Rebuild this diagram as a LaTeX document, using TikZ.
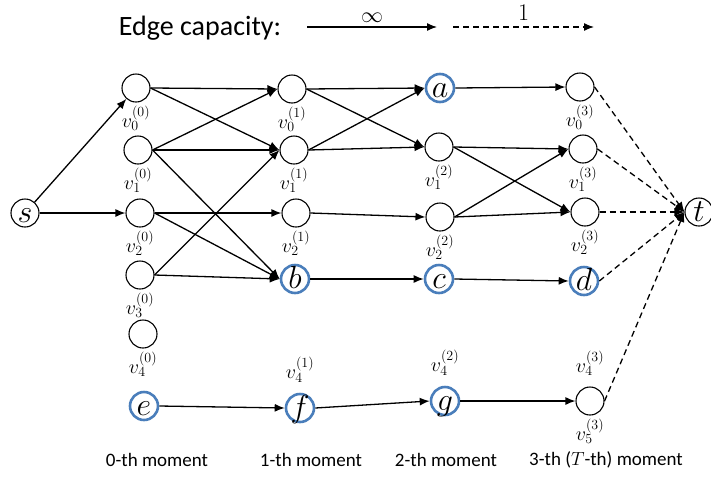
\documentclass[tikz,border=0pt]{standalone}
\usepackage{fix-cm}
\usepackage{fontspec}
\setmainfont{Carlito}
\usetikzlibrary{arrows.meta, positioning}

\definecolor{hitblue}{RGB}{74,126,187}

\begin{document}
\begin{tikzpicture}[x=1pt, y=-1pt, >={Latex[length=10pt,width=8pt]}, line width=1.3pt,
  vtx/.style={draw, circle, line width=1.1pt, minimum size=28pt, inner sep=0pt,
    text height=18pt, text depth=0pt, font=\fontsize{32}{32}\selectfont},
  hit/.style={vtx, draw=hitblue, line width=2.6pt},
  vlbl/.style={font=\fontsize{20}{20}\selectfont, inner sep=1pt, label distance=2pt},
  unitcap/.style={dash pattern=on 6pt off 4pt},
  moment/.style={font=\fontsize{19}{19}\selectfont}]

\useasboundingbox (0,0) rectangle (711,480);

% legend
\node (capt) at (200,28) {\fontsize{28}{28}\selectfont Edge capacity:};
\coordinate (inf-a) at (307,27);
\coordinate (inf-b) at (437,27);
\coordinate (one-a) at (453,27);
\coordinate (one-b) at (594,27);
\draw[->] (inf-a) -- (inf-b) node[midway, above=1pt, font=\fontsize{22}{22}\selectfont] {$\infty$};
\draw[->, unitcap] (one-a) -- (one-b) node[midway, above=3pt, font=\fontsize{24}{24}\selectfont] {$1$};

% source and sink
\node[vtx] (s) at (25,213) {$s$};
\node[vtx] (t) at (699,212) {$t$};

% 0-th moment
\node[vtx, label={[vlbl]below:$v_0^{(0)}$}] (v00) at (136,88) {};
\node[vtx, label={[vlbl]below:$v_1^{(0)}$}] (v10) at (138,150) {};
\node[vtx, label={[vlbl]below:$v_2^{(0)}$}] (v20) at (140,213) {};
\node[vtx, label={[vlbl]below:$v_3^{(0)}$}] (v30) at (140,275) {};
\node[vtx, label={[vlbl]below:$v_4^{(0)}$}] (v40) at (143,334) {};
\node[hit] (e) at (144,406) {$e$};

% 1-th moment
\node[vtx, label={[vlbl]below:$v_0^{(1)}$}] (v01) at (292,89) {};
\node[vtx, label={[vlbl]below:$v_1^{(1)}$}] (v11) at (294,150) {};
\node[vtx, label={[vlbl]below:$v_2^{(1)}$}] (v21) at (296,213) {};
\node[hit] (b) at (295,279) {$b$};
\node[hit, label={[vlbl, label distance=9pt]above:$v_4^{(1)}$}] (f) at (300,408) {$f$};

% 2-th moment
\node[hit] (a) at (440,88) {$a$};
\node[vtx, label={[vlbl]below:$v_1^{(2)}$}] (v12) at (439,147) {};
\node[vtx, label={[vlbl]below:$v_2^{(2)}$}] (v22) at (440,217) {};
\node[hit] (c) at (439,279) {$c$};
\node[hit, label={[vlbl, label distance=9pt]above:$v_4^{(2)}$}] (g) at (445,401) {$g$};

% 3-th moment
\node[vtx, label={[vlbl]below:$v_0^{(3)}$}] (v03) at (580,87) {};
\node[vtx, label={[vlbl]below:$v_1^{(3)}$}] (v13) at (583,149) {};
\node[vtx, label={[vlbl]below:$v_2^{(3)}$}] (v23) at (585,212) {};
\node[hit] (d) at (584,281) {$d$};
\node[vtx, label={[vlbl, label distance=9pt]above:$v_4^{(3)}$}, label={[vlbl]below:$v_5^{(3)}$}] (v53) at (590,401) {};

% moment captions
\node[moment] (m0) at (157,460) {0-th moment};
\node[moment] (m1) at (311,460) {1-th moment};
\node[moment] (m2) at (446,460) {2-th moment};
\node[moment] (m3) at (606,460) {3-th ($T$-th) moment};

\draw[->] (s) -- (v00);
\draw[->] (s.east) -- (v20.west);

\draw[->] (v00.east) -- (v01.west);
\draw[->] (v00.east) -- (v11.west);
\draw[->] (v10.east) -- (v01.west);
\draw[->] (v10.east) -- (v11.west);
\draw[->] (v10.east) -- (b.west);
\draw[->] (v20.east) -- (v21.west);
\draw[->] (v20.east) -- (b.west);
\draw[->] (v30.east) -- (v11.west);
\draw[->] (v30.east) -- (b.west);
\draw[->] (e.east) -- (f.west);

\draw[->] (v01.east) -- (a.west);
\draw[->] (v01.east) -- (v12.west);
\draw[->] (v11.east) -- (a.west);
\draw[->] (v11.east) -- (v12.west);
\draw[->] (v21.east) -- (v22.west);
\draw[->] (b.east) -- (c.west);
\draw[->] (f.east) -- (g.west);

\draw[->] (a.east) -- (v03.west);
\draw[->] (v12.east) -- (v13.west);
\draw[->] (v12.east) -- (v23.west);
\draw[->] (v22.east) -- (v13.west);
\draw[->] (v22.east) -- (v23.west);
\draw[->] (c.east) -- (d.west);
\draw[->] (g.east) -- (v53.west);

\draw[->, unitcap] (v03.east) -- (t.west);
\draw[->, unitcap] (v13.east) -- (t.west);
\draw[->, unitcap] (v23.east) -- (t.west);
\draw[->, unitcap] (d.east) -- (t.west);
\draw[->, unitcap] (v53.east) -- (t.west);

\end{tikzpicture}
\end{document}
